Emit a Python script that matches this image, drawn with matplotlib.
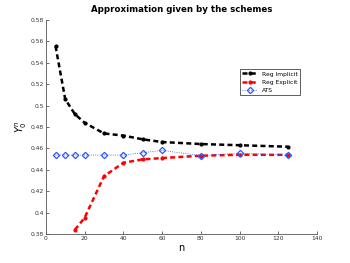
import numpy as np
import matplotlib
matplotlib.use('Agg')
import matplotlib.pyplot as plt

# values
n_implicit = [5, 10, 15, 20, 30, 40, 50, 60, 80, 100, 125]
y_implicit = [0.5555, 0.506, 0.492, 0.484, 0.474, 0.472, 0.4685, 0.466, 0.4641, 0.463, 0.4616]

n_explicit = [15, 20, 30, 40, 50, 60, 80, 100, 125]
y_explicit = [0.384, 0.3952, 0.434, 0.4466, 0.4498, 0.451, 0.4532, 0.4541, 0.454]

n_ats = [5, 10, 15, 20, 30, 40, 50, 60, 80, 100, 125]
y_ats = [0.4538, 0.4538, 0.4538, 0.4538, 0.4538, 0.4538, 0.456, 0.4582, 0.4532, 0.4554, 0.4538]

xticks = [0, 20, 40, 60, 80, 100, 120, 140]
yticks = [0.38, 0.4, 0.42, 0.44, 0.46, 0.48, 0.5, 0.52, 0.54, 0.56, 0.58]
ytick_labels = ['0.38', '0.4', '0.42', '0.44', '0.46', '0.48', '0.5', '0.52', '0.54', '0.56', '0.58']

fig = plt.figure(figsize=(3.5, 2.63), dpi=100)
ax = fig.add_axes([0.131, 0.110, 0.775, 0.814])

ax.plot(n_implicit, y_implicit, 'k--', marker='o', markersize=2, linewidth=1.8,
        dashes=(2, 1.3), label='Reg Implicit')
ax.plot(n_explicit, y_explicit, '--', color='red', marker='o', markersize=2,
        linewidth=1.8, dashes=(2, 1.3), label='Reg Explicit')
ax.plot(n_ats, y_ats, ':', color='#2f55ff', marker='D', markersize=3.2,
        markerfacecolor='none', markeredgewidth=0.9, linewidth=0.6,
        label='ATS')

ax.set_xlim(0, 140)
ax.set_ylim(0.38, 0.58)
ax.set_xticks(xticks)
ax.set_yticks(yticks)
ax.set_yticklabels(ytick_labels)
ax.tick_params(direction='in', labelsize=4.3, length=2.5, width=0.5,
               colors='#333333', pad=1.5)
ax.spines['top'].set_visible(False)
ax.spines['right'].set_visible(False)
for s in ['left', 'bottom']:
    ax.spines[s].set_linewidth(0.6)
    ax.spines[s].set_color('#555555')

ax.set_title('Approximation given by the schemes', fontsize=6.2,
             fontweight='bold', pad=6)
ax.set_xlabel('n', fontsize=7, labelpad=1)
ax.set_ylabel('$Y_0^n$', fontsize=7, labelpad=1)

leg = ax.legend(loc='upper left', bbox_to_anchor=(0.705, 0.785), fontsize=4.3,
                fancybox=False, edgecolor='#444444', framealpha=1,
                handlelength=2.5, borderpad=0.4, labelspacing=0.5)
leg.get_frame().set_linewidth(0.6)

fig.savefig('out.png', dpi=100)
